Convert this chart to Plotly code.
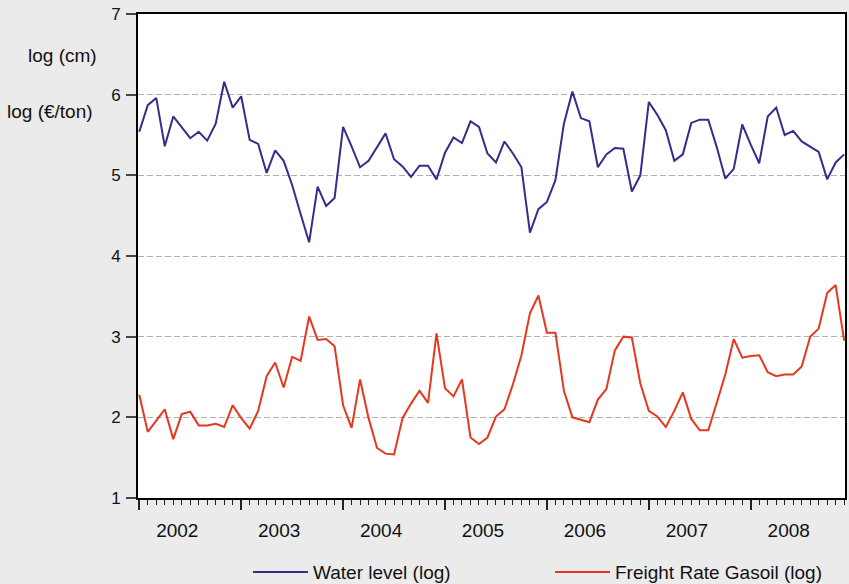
import numpy as np
import plotly.graph_objects as go

# Monthly observations (log scale values)
water_level = [5.54, 5.87, 5.96, 5.36, 5.73, 5.59, 5.46, 5.54, 5.43, 5.64,
               6.16, 5.84, 5.98, 5.44, 5.39, 5.03, 5.31, 5.18, 4.88, 4.52,
               4.17, 4.86, 4.62, 4.72, 5.60, 5.36, 5.10, 5.18, 5.35, 5.52,
               5.20, 5.11, 4.98, 5.12, 5.12, 4.95, 5.28, 5.47, 5.40, 5.67,
               5.60, 5.27, 5.16, 5.42, 5.27, 5.10, 4.29, 4.58, 4.67, 4.94,
               5.64, 6.04, 5.71, 5.67, 5.10, 5.26, 5.34, 5.33, 4.80, 5.00,
               5.91, 5.75, 5.56, 5.18, 5.26, 5.65, 5.69, 5.69, 5.35, 4.96,
               5.08, 5.63, 5.38, 5.15, 5.73, 5.84, 5.50, 5.55, 5.42, 5.35,
               5.29, 4.95, 5.16, 5.26]

freight_gasoil = [2.28, 1.82, 1.96, 2.10, 1.73, 2.04, 2.07, 1.90, 1.90, 1.92,
                  1.88, 2.15, 1.99, 1.86, 2.08, 2.51, 2.68, 2.37, 2.75, 2.70,
                  3.25, 2.96, 2.97, 2.88, 2.15, 1.87, 2.47, 1.99, 1.62, 1.55,
                  1.54, 1.99, 2.17, 2.33, 2.18, 3.04, 2.36, 2.26, 2.47, 1.75,
                  1.67, 1.75, 2.01, 2.10, 2.41, 2.77, 3.29, 3.51, 3.05, 3.05,
                  2.33, 2.00, 1.97, 1.94, 2.22, 2.35, 2.83, 3.00, 2.99, 2.42,
                  2.08, 2.01, 1.88, 2.08, 2.31, 1.98, 1.84, 1.84, 2.18, 2.53,
                  2.97, 2.74, 2.76, 2.77, 2.56, 2.51, 2.53, 2.53, 2.63, 3.00,
                  3.10, 3.54, 3.64, 2.95]

year_labels = ["2002", "2003", "2004", "2005", "2006", "2007", "2008"]

months = np.arange(len(water_level))
year_ticks = months[::12][:len(year_labels)]

FONT = "Liberation Sans, Arial, Helvetica, sans-serif"
BLUE = "#3a2a8c"
RED = "#e8361e"

fig = go.Figure()
fig.add_trace(go.Scatter(x=months, y=water_level, mode="lines",
                         name="Water level (log)",
                         line=dict(color=BLUE, width=2)))
fig.add_trace(go.Scatter(x=months, y=freight_gasoil, mode="lines",
                         name="Freight Rate Gasoil (log)",
                         line=dict(color=RED, width=2)))

fig.update_layout(
    width=849, height=584,
    margin=dict(l=138, r=4, t=14, b=86, autoexpand=False),
    paper_bgcolor="#ebebeb",
    plot_bgcolor="#ffffff",
    font=dict(family=FONT, size=19, color="#111111"),
    showlegend=True,
    legend=dict(orientation="h", x=0.1556, xanchor="left",
                y=-0.153, yanchor="middle",
                bgcolor="rgba(0,0,0,0)",
                font=dict(size=19), itemwidth=55, entrywidth=232,
                entrywidthmode="pixels", tracegroupgap=0),
)

fig.update_xaxes(
    range=[-0.15, 83.1],
    tickmode="array", tickvals=year_ticks, ticktext=year_labels,
    ticklabelshift=38, ticklabelstandoff=4,
    ticks="outside", ticklen=10, tickwidth=1.5, tickcolor="#222222",
    minor=dict(dtick=1, tick0=0, ticks="outside", ticklen=5,
               tickwidth=1, tickcolor="#222222", showgrid=False),
    showgrid=False, zeroline=False,
    showline=True, linecolor="#000000", linewidth=2, mirror=True,
    tickfont=dict(size=19),
)

fig.update_yaxes(
    range=[1, 7], dtick=1, tick0=1,
    ticks="outside", ticklen=10, tickwidth=1.5, tickcolor="#444444",
    ticklabelstandoff=2,
    showgrid=True, gridcolor="#b0b0b0", gridwidth=1.3, griddash="6px,3px",
    zeroline=False,
    showline=True, linecolor="#000000", linewidth=2, mirror=True,
    tickfont=dict(size=17),
)

fig.add_annotation(text="log (cm)", xref="paper", yref="paper",
                   x=(62 - 138) / 707, y=(498 - 55) / 484,
                   xanchor="center", yanchor="middle", showarrow=False,
                   font=dict(size=19))
fig.add_annotation(text="log (€/ton)", xref="paper", yref="paper",
                   x=(50 - 138) / 707, y=(498 - 111) / 484,
                   xanchor="center", yanchor="middle", showarrow=False,
                   font=dict(size=19))

fig.write_html("out.html")
